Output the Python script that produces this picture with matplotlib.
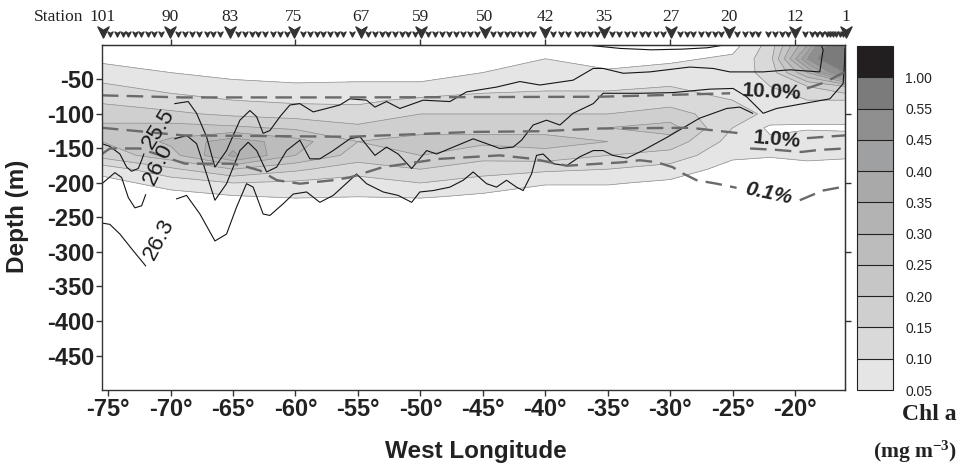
import numpy as np
import matplotlib
matplotlib.use('Agg')
import matplotlib.pyplot as plt
import matplotlib.transforms as mtransforms
from matplotlib.path import Path

plt.rcParams['font.family'] = ['Liberation Sans', 'DejaVu Sans']
plt.rcParams['axes.unicode_minus'] = False
plt.rcParams['mathtext.fontset'] = 'custom'
plt.rcParams['mathtext.rm'] = 'Liberation Serif:bold'
plt.rcParams['mathtext.it'] = 'Liberation Serif:bold'
plt.rcParams['mathtext.bf'] = 'Liberation Serif:bold'

nan = np.nan

# ---- chlorophyll section (mg m-3) ----
lon_grid = [-75.5, -70, -65, -60, -55, -50, -45, -40, -35, -30, -25, -22, -19, -16]
depth_grid = [0, -20, -40, -60, -80, -100, -120, -140, -160, -180, -200, -220, -240]
# one list per longitude, top to bottom
chl_by_lon = [
    [0.02, 0.04, 0.07, 0.11, 0.14, 0.18, 0.21, 0.20, 0.17, 0.07, 0.03, 0.01, 0.0],
    [0.0, 0.01, 0.05, 0.08, 0.12, 0.16, 0.22, 0.26, 0.23, 0.14, 0.07, 0.03, 0.0],
    [0.0, 0.0, 0.03, 0.07, 0.10, 0.14, 0.21, 0.33, 0.36, 0.20, 0.10, 0.045, 0.0],
    [0.0, 0.0, 0.02, 0.06, 0.09, 0.13, 0.19, 0.27, 0.25, 0.16, 0.09, 0.055, 0.0],
    [0.0, 0.0, 0.03, 0.06, 0.09, 0.12, 0.16, 0.20, 0.18, 0.12, 0.08, 0.05, 0.0],
    [0.0, 0.0, 0.03, 0.06, 0.11, 0.15, 0.18, 0.22, 0.20, 0.15, 0.10, 0.055, 0.0],
    [0.0, 0.02, 0.05, 0.08, 0.12, 0.15, 0.19, 0.21, 0.17, 0.12, 0.08, 0.04, 0.0],
    [0.02, 0.05, 0.07, 0.09, 0.12, 0.15, 0.18, 0.22, 0.18, 0.11, 0.055, 0.02, 0.0],
    [0.0, 0.02, 0.06, 0.09, 0.12, 0.15, 0.20, 0.20, 0.15, 0.10, 0.055, 0.02, 0.0],
    [0.0, 0.04, 0.07, 0.10, 0.13, 0.17, 0.22, 0.18, 0.13, 0.08, 0.04, 0.01, 0.0],
    [0.03, 0.06, 0.07, 0.08, 0.10, 0.12, 0.10, 0.08, 0.06, 0.03, 0.01, 0.0, 0.0],
    [0.12, 0.13, 0.12, 0.10, 0.10, 0.09, 0.04, 0.06, 0.055, 0.02, 0.0, 0.0, 0.0],
    [0.35, 0.45, 0.30, 0.15, 0.10, 0.08, 0.04, 0.10, 0.07, 0.02, 0.0, 0.0, 0.0],
    [0.75, 0.80, 0.55, 0.20, 0.10, 0.08, 0.04, 0.08, 0.06, 0.02, 0.0, 0.0, 0.0],
]
chl_levels = [0.05, 0.10, 0.15, 0.20, 0.25, 0.30, 0.35, 0.40, 0.45, 0.55, 1.00, 2.00]
chl_colors = ['#e5e5e5', '#d9d9d9', '#cfcfcf', '#c6c6c6', '#bcbcbc', '#b3b3b3',
              '#a9a9a9', '#9fa0a2', '#8f8f8f', '#7b7b7b', '#231f20']

# ---- isopycnals (sigma-t), NaN = gap for the inline label ----
iso_255_lon = [-75.5, -74.86, -74.06, -73.52, -73.12, -72.59, -72.32, -72.14, nan,
               -69.66, -68.59, -67.92, -67.12, -66.45, -65.52, -64.45, -63.65, -63.11,
               -62.59, -62.05, -61.25, -60.45, -59.65, -58.58, -57.51, -56.45, -55.65,
               -54.31, -53.64, -52.71, -51.64, -49.78, -47.64, -46.30, -43.90, -42.03,
               -40.43, -37.77, -36.16, -35.36, -33.76, -31.63, -28.43, -26.56, -25.22,
               -22.55, -20.42, -18.02, -17.75, -17.88]
iso_255_dep = [-143, -147, -158, -177, -183, -179, -167, -158, nan,
               -85, -82, -99, -133, -177, -153, -109, -95, -104,
               -128, -124, -104, -87, -85, -97, -92, -87, -78,
               -80, -90, -82, -92, -80, -82, -68, -61, -53,
               -58, -51, -34, -34, -41, -39, -32, -34, -39,
               -39, -36, -39, -7, -1]
iso_260_lon = [-75.5, -74.46, -73.92, -73.39, -72.86, -72.32, -72.00, nan,
               -69.66, -68.72, -67.92, -67.12, -66.45, -65.52, -64.45, -63.79, -63.11,
               -62.31, -61.51, -60.71, -59.65, -58.85, -58.05, -56.98, -55.65, -54.84,
               -53.64, -52.71, -51.78, -50.70, -49.50, -48.70, -47.37, -45.77, -44.70,
               -43.63, -42.57, -41.90, -40.97, -39.90, -38.83, -37.77, -36.16, -35.36,
               -32.43, -29.76, -26.83, -24.96, -23.88, -22.55, -21.48, -19.35, -17.21,
               -16.15, -16.05, -16.0]
iso_260_dep = [-201, -185, -192, -221, -236, -233, -217, nan,
               -136, -131, -143, -187, -225, -201, -153, -141, -153,
               -184, -177, -153, -138, -165, -165, -153, -136, -133,
               -160, -148, -158, -179, -153, -158, -148, -136, -143,
               -150, -148, -138, -116, -109, -116, -99, -85, -70,
               -70, -69, -64, -63, -75, -99, -92, -85, -78,
               -56, -30, -5]
iso_263_lon = [-75.5, -74.86, -74.06, -73.0, -72.0, nan,
               -69.52, -68.72, -67.65, -66.45, -65.52, -64.72, -63.92, -63.39, -62.59,
               -62.05, -60.98, -60.18, -59.11, -58.05, -56.98, -55.65, -55.11, -54.31,
               -52.98, -51.78, -50.70, -50.04, -48.98, -47.64, -46.57, -45.77, -44.70,
               -43.90, -43.10, -42.30, -41.77, -41.10, -40.70, -40.17, -39.37, -38.30,
               -37.23, -36.16, -35.36, -34.59, -33.47, -32.19, -30.27, -27.63, -25.47,
               -24.43, -23.39]
iso_263_dep = [-258, -260, -274, -298, -320, nan,
               -223, -218, -245, -284, -274, -235, -201, -206, -245,
               -247, -230, -216, -213, -228, -218, -196, -187, -201,
               -213, -218, -228, -213, -211, -206, -196, -184, -201,
               -206, -196, -206, -211, -187, -160, -158, -172, -175,
               -162, -153, -153, -160, -164, -153, -134, -106, -92,
               -90, -99]
# thin lens near the surface
iso_top_lon = [-36.2, -34.0, -31.5, -29.0, -27.0, -26.0]
iso_top_dep = [-1, -5, -7, -6, -4, -1]

# ---- light levels (% of surface irradiance) ----
light10_lon = [-75.5, -69.0, -55.65, -35.6, -25.2, nan, -19.05, -17.6, -16.0]
light10_dep = [-73, -76, -76, -75, -70, nan, -63, -54, -39]
light1_lon = [-75.5, -69.0, -55.65, -45.8, -40.4, -35.6, -28.4, -24.4, nan, -19.05, -16.0,
              nan, -23.6, -21.5, -19.5, -18.0, -16.0]
light1_dep = [-120, -131, -133, -126, -125, -121, -120, -128, nan, -135, -131,
              nan, -150, -152, -155, -152, -150]
light01_lon = [-75.5, -74.86, -72.46, -68.86, -65.01, -64.21, -62.85, -61.49, -59.65,
               -57.0, -55.65, -53.0, -48.44, -43.64, -40.99, -38.27, -35.63, -33.79,
               -32.43, -31.07, -29.8, -29.0, -27.88, -26.28, -24.68, nan, -19.62, -17.78, -16.0]
light01_dep = [-158, -150, -150, -172, -172, -175, -182, -196, -201,
               -196, -192, -177, -165, -160, -165, -175, -172, -170,
               -167, -170, -177, -186, -196, -201, -207, nan, -225, -211, -205]

# ---- stations along the top ----
station_major = ['101', '90', '83', '75', '67', '59', '50', '42', '35', '27', '20', '12', '1']
station_major_lon = [-75.42, -70.06, -65.25, -60.13, -54.76, -49.96, -44.83, -40.03,
                     -35.30, -29.94, -25.30, -20.02, -15.94]
station_minor_lon = [
    -74.86, -74.32, -73.84, -73.39, -72.86, -72.40, -71.79, -71.31, -70.80,
    -69.39, -68.86, -68.32, -67.71, -67.12, -66.59, -66.05,
    -64.59, -64.05, -63.51, -62.99, -62.45, -61.79, -61.25, -60.71,
    -59.38, -58.85, -58.31, -57.78, -57.25, -56.71, -56.18, -55.51,
    -54.18, -53.64, -53.11, -52.58, -52.04, -51.50, -50.98, -50.44,
    -49.40, -48.84, -48.28, -47.72, -47.16, -46.60, -46.04, -45.48,
    -44.17, -43.63, -43.10, -42.57, -42.03, -41.50, -40.97,
    -39.37, -38.70, -38.17, -37.49, -36.97, -36.43, -35.89,
    -34.69, -34.08, -33.49, -32.91, -32.29, -31.76, -31.14, -30.56,
    -29.22, -28.69, -28.16, -27.49, -26.96, -26.42, -25.89,
    -24.68, -24.02, -23.48, -22.95, -22.15, -21.61, -21.08, -20.55,
    -19.22, -18.68, -18.28, -17.88, -17.48, -17.21, -16.95, -16.68, -16.41, -16.15]

x_ticks = [-75, -70, -65, -60, -55, -50, -45, -40, -35, -30, -25, -20]
x_ticklabels = ['-75°', '-70°', '-65°', '-60°', '-55°', '-50°', '-45°', '-40°',
                '-35°', '-30°', '-25°', '-20°']
y_ticks = [-450, -400, -350, -300, -250, -200, -150, -100, -50]
y_ticklabels = ['-450', '-400', '-350', '-300', '-250', '-200', '-150', '-100', '-50']
cbar_ticklabels = ['0.05', '0.10', '0.15', '0.20', '0.25', '0.30', '0.35', '0.40',
                   '0.45', '0.55', '1.00']

# ---------------------------------------------------------------
fig = plt.figure(figsize=(9.6, 4.7), dpi=100)
ax = fig.add_axes([0.1059, 0.1702, 0.7743, 0.7341])
cax = fig.add_axes([0.8924, 0.1702, 0.0375, 0.7320])

chl = np.array(chl_by_lon).T
cf = ax.contourf(lon_grid, depth_grid, chl, levels=chl_levels, colors=chl_colors)
ax.contour(lon_grid, depth_grid, chl, levels=chl_levels[:-1], colors='#8e8e8e',
           linewidths=0.5)

# isopycnals
for lo, de in [(iso_255_lon, iso_255_dep), (iso_260_lon, iso_260_dep),
               (iso_263_lon, iso_263_dep), (iso_top_lon, iso_top_dep)]:
    ax.plot(lo, de, color='#151515', lw=0.8, solid_joinstyle='round')
ax.text(-70.94, -122, '25.5', rotation=58, ha='center', va='center', fontsize=16,
        color='#1a1a1a')
ax.text(-70.98, -172, '26.0', rotation=64, ha='center', va='center', fontsize=16,
        color='#1a1a1a')
ax.text(-70.92, -282, '26.3', rotation=62, ha='center', va='center', fontsize=16,
        color='#1a1a1a')

# light levels
for lo, de in [(light10_lon, light10_dep), (light1_lon, light1_dep),
               (light01_lon, light01_dep)]:
    ax.plot(lo, de, color='#6a6a6a', lw=1.7, linestyle=(0, (7, 3.5)))
ax.text(-21.85, -68, '10.0%', rotation=-3, ha='center', va='center', fontsize=15,
        fontweight='bold', color='#222222')
ax.text(-21.45, -137, '1.0%', rotation=-5, ha='center', va='center', fontsize=15,
        fontweight='bold', color='#222222')
ax.text(-22.1, -215, '0.1%', rotation=-12, ha='center', va='center', fontsize=15,
        fontweight='bold', style='italic', color='#222222')

ax.set_xlim(-75.52, -16.0)
ax.set_ylim(-500, 0)
ax.set_xticks(x_ticks)
ax.set_xticklabels(x_ticklabels)
ax.set_yticks(y_ticks)
ax.set_yticklabels(y_ticklabels)
ax.tick_params(direction='out', length=4, width=1, color='#333333', labelsize=17, pad=1.5)
for lab in ax.get_xticklabels() + ax.get_yticklabels():
    lab.set_fontweight('bold')
    lab.set_color('#222222')
for sp in ax.spines.values():
    sp.set_linewidth(1.0)
    sp.set_color('#333333')

top = ax.secondary_xaxis('top')
top.set_xticks([-70, -60, -50, -40, -30, -20])
top.tick_params(direction='out', length=4, width=1, color='#333333', labeltop=False)
right = ax.secondary_yaxis('right')
right.set_yticks([-400, -300, -200, -100])
right.tick_params(direction='out', length=4, width=1, color='#333333', labelright=False)

ax.set_xlabel('West Longitude', fontsize=17.5, fontweight='bold', color='#222222')
ax.xaxis.set_label_coords(0.5036, -0.145)
ax.set_ylabel('Depth (m)', fontsize=17.5, fontweight='bold', color='#222222')
ax.yaxis.set_label_coords(-0.098, 0.504)

# station markers
chevron = Path([(-1, 1), (0, -1), (1, 1), (0, 0.4), (-1, 1)],
               [Path.MOVETO, Path.LINETO, Path.LINETO, Path.LINETO, Path.CLOSEPOLY])
trans = mtransforms.blended_transform_factory(ax.transData, ax.transAxes)
ax.plot(station_minor_lon, [1.032] * len(station_minor_lon), transform=trans,
        linestyle='none', marker=chevron, ms=3.6, color='#333333', clip_on=False)
ax.plot(station_major_lon, [1.039] * len(station_major_lon), transform=trans,
        linestyle='none', marker=chevron, ms=8, color='#333333', clip_on=False)
for name, lo in zip(station_major, station_major_lon):
    ax.text(lo, 1.080, name, transform=trans, ha='center', va='center',
            fontsize=12.5, family='Liberation Serif', color='#222222')
ax.text(-0.024, 1.080, 'Station', transform=ax.transAxes, ha='right', va='center',
        fontsize=12.5, family='Liberation Serif', color='#222222')

# colorbar
cbar = fig.colorbar(cf, cax=cax, spacing='uniform', drawedges=True,
                    ticks=chl_levels[:-1])
cbar.ax.set_yticklabels(cbar_ticklabels)
cbar.ax.tick_params(length=0, pad=9, labelsize=10, labelcolor='#222222')
cbar.outline.set_linewidth(0.8)
cbar.outline.set_edgecolor('#222222')
cbar.dividers.set_color('#222222')
cbar.dividers.set_linewidth(0.8)

fig.text(0.997, 1 - 415 / 470, 'Chl a', ha='right', va='center', fontsize=17,
         family='Liberation Serif', fontweight='bold', color='#222222')
fig.text(0.997, 1 - 452 / 470, r'(mg m$^{-3}$)', ha='right', va='center', fontsize=15.5,
         family='Liberation Serif', fontweight='bold', color='#222222')

fig.savefig('out.png', dpi=100)
